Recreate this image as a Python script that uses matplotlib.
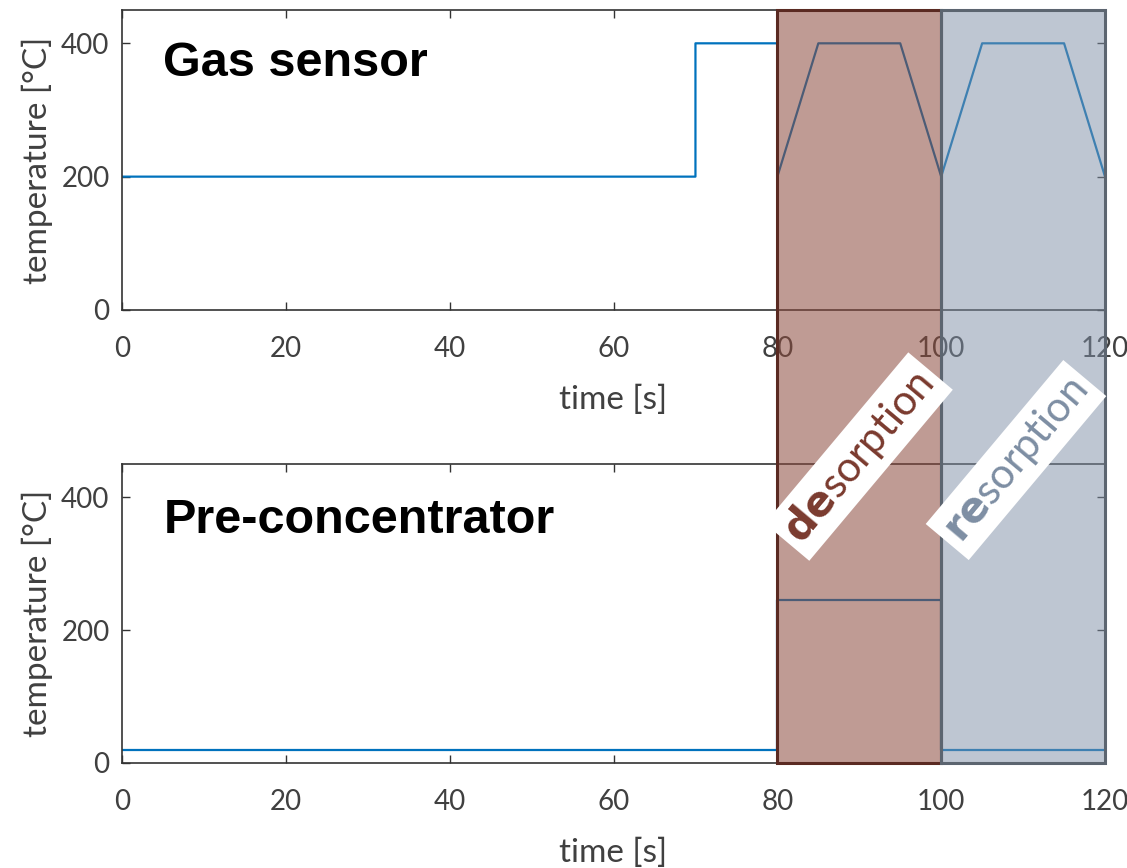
import matplotlib.pyplot as plt
from matplotlib.patches import Rectangle

# Heater temperature programmes
gas_time = [0, 70, 70, 80, 80, 85, 95, 100, 105, 115, 120]
gas_temp = [200, 200, 400, 400, 200, 400, 400, 200, 400, 400, 200]
pre_time = [0, 80, 80, 100, 100, 120]
pre_temp = [20, 20, 245, 245, 20, 20]

x_ticks = [0, 20, 40, 60, 80, 100, 120]
y_ticks = [0, 200, 400]

# phases: (start, end, bold part, rest, text colour, fill, fill alpha, edge)
phases = [
    (80, 100, "de", "sorption", "#7a3a2e", "#8c4a3c", 0.55, "#5a2a22"),
    (100, 120, "re", "sorption", "#7d8ea3", "#7f8fa6", 0.5, "#5c6570"),
]
label_pos = [(0.762, 0.474), (0.9015, 0.470)]

tick_font = "Lato"
grey = "#404040"

fig = plt.figure(figsize=(11.27, 8.68), dpi=100)
ax_gas = fig.add_axes([0.1083, 0.6429, 0.8722, 0.3456])
ax_pre = fig.add_axes([0.1083, 0.1210, 0.8722, 0.3445])

for ax, t, T, name, ty in [(ax_gas, gas_time, gas_temp, "Gas sensor", 0.82),
                           (ax_pre, pre_time, pre_temp, "Pre-concentrator", 0.81)]:
    ax.plot(t, T, color="#0072BD", lw=1.6)
    ax.set_xlim(0, 120)
    ax.set_ylim(0, 450)
    ax.set_xticks(x_ticks)
    ax.set_yticks(y_ticks)
    ax.tick_params(direction="in", length=6, width=1, top=True, right=True,
                   colors="#333333", labelcolor=grey, labelsize=20)
    ax.tick_params(axis="x", pad=19)
    ax.tick_params(axis="y", pad=9)
    for lab in ax.get_xticklabels() + ax.get_yticklabels():
        lab.set_family(tick_font)
    for s in ax.spines.values():
        s.set_color("#333333")
        s.set_linewidth(1.2)
    ax.set_xlabel("time [s]", family=tick_font, fontsize=24, color=grey, labelpad=16)
    ax.set_ylabel("temperature [°C]", family=tick_font, fontsize=24, color=grey, labelpad=6)
    ax.text(0.042, ty, name, transform=ax.transAxes, family="Liberation Sans",
            fontweight="bold", fontsize=35, color="black", va="center", ha="left")

# shaded phase boxes spanning both panels
to_fig = fig.transFigure.inverted()
for x0, x1, bold, rest, tcol, fcol, alpha, ecol in phases:
    fx0, fy_top = to_fig.transform(ax_gas.transData.transform((x0, 450)))
    fx1, fy_bot = to_fig.transform(ax_pre.transData.transform((x1, 0)))
    fig.patches.append(Rectangle((fx0, fy_bot), fx1 - fx0, fy_top - fy_bot,
                                 transform=fig.transFigure, facecolor=fcol,
                                 alpha=alpha, edgecolor="none", zorder=5))
    fig.patches.append(Rectangle((fx0, fy_bot), fx1 - fx0, fy_top - fy_bot,
                                 transform=fig.transFigure, facecolor="none",
                                 edgecolor=ecol, lw=2.2, zorder=6))

# rotated phase labels, first syllable in bold
for (x0, x1, bold, rest, tcol, fcol, alpha, ecol), (cx, cy) in zip(phases, label_pos):
    fig.text(cx, cy, r"$\bf{" + bold + "}$" + rest, rotation=50,
             ha="center", va="center", fontsize=30, color=tcol, family="Lato",
             bbox=dict(facecolor="white", edgecolor="none", pad=5), zorder=10)

fig.savefig("out.png", dpi=100)
